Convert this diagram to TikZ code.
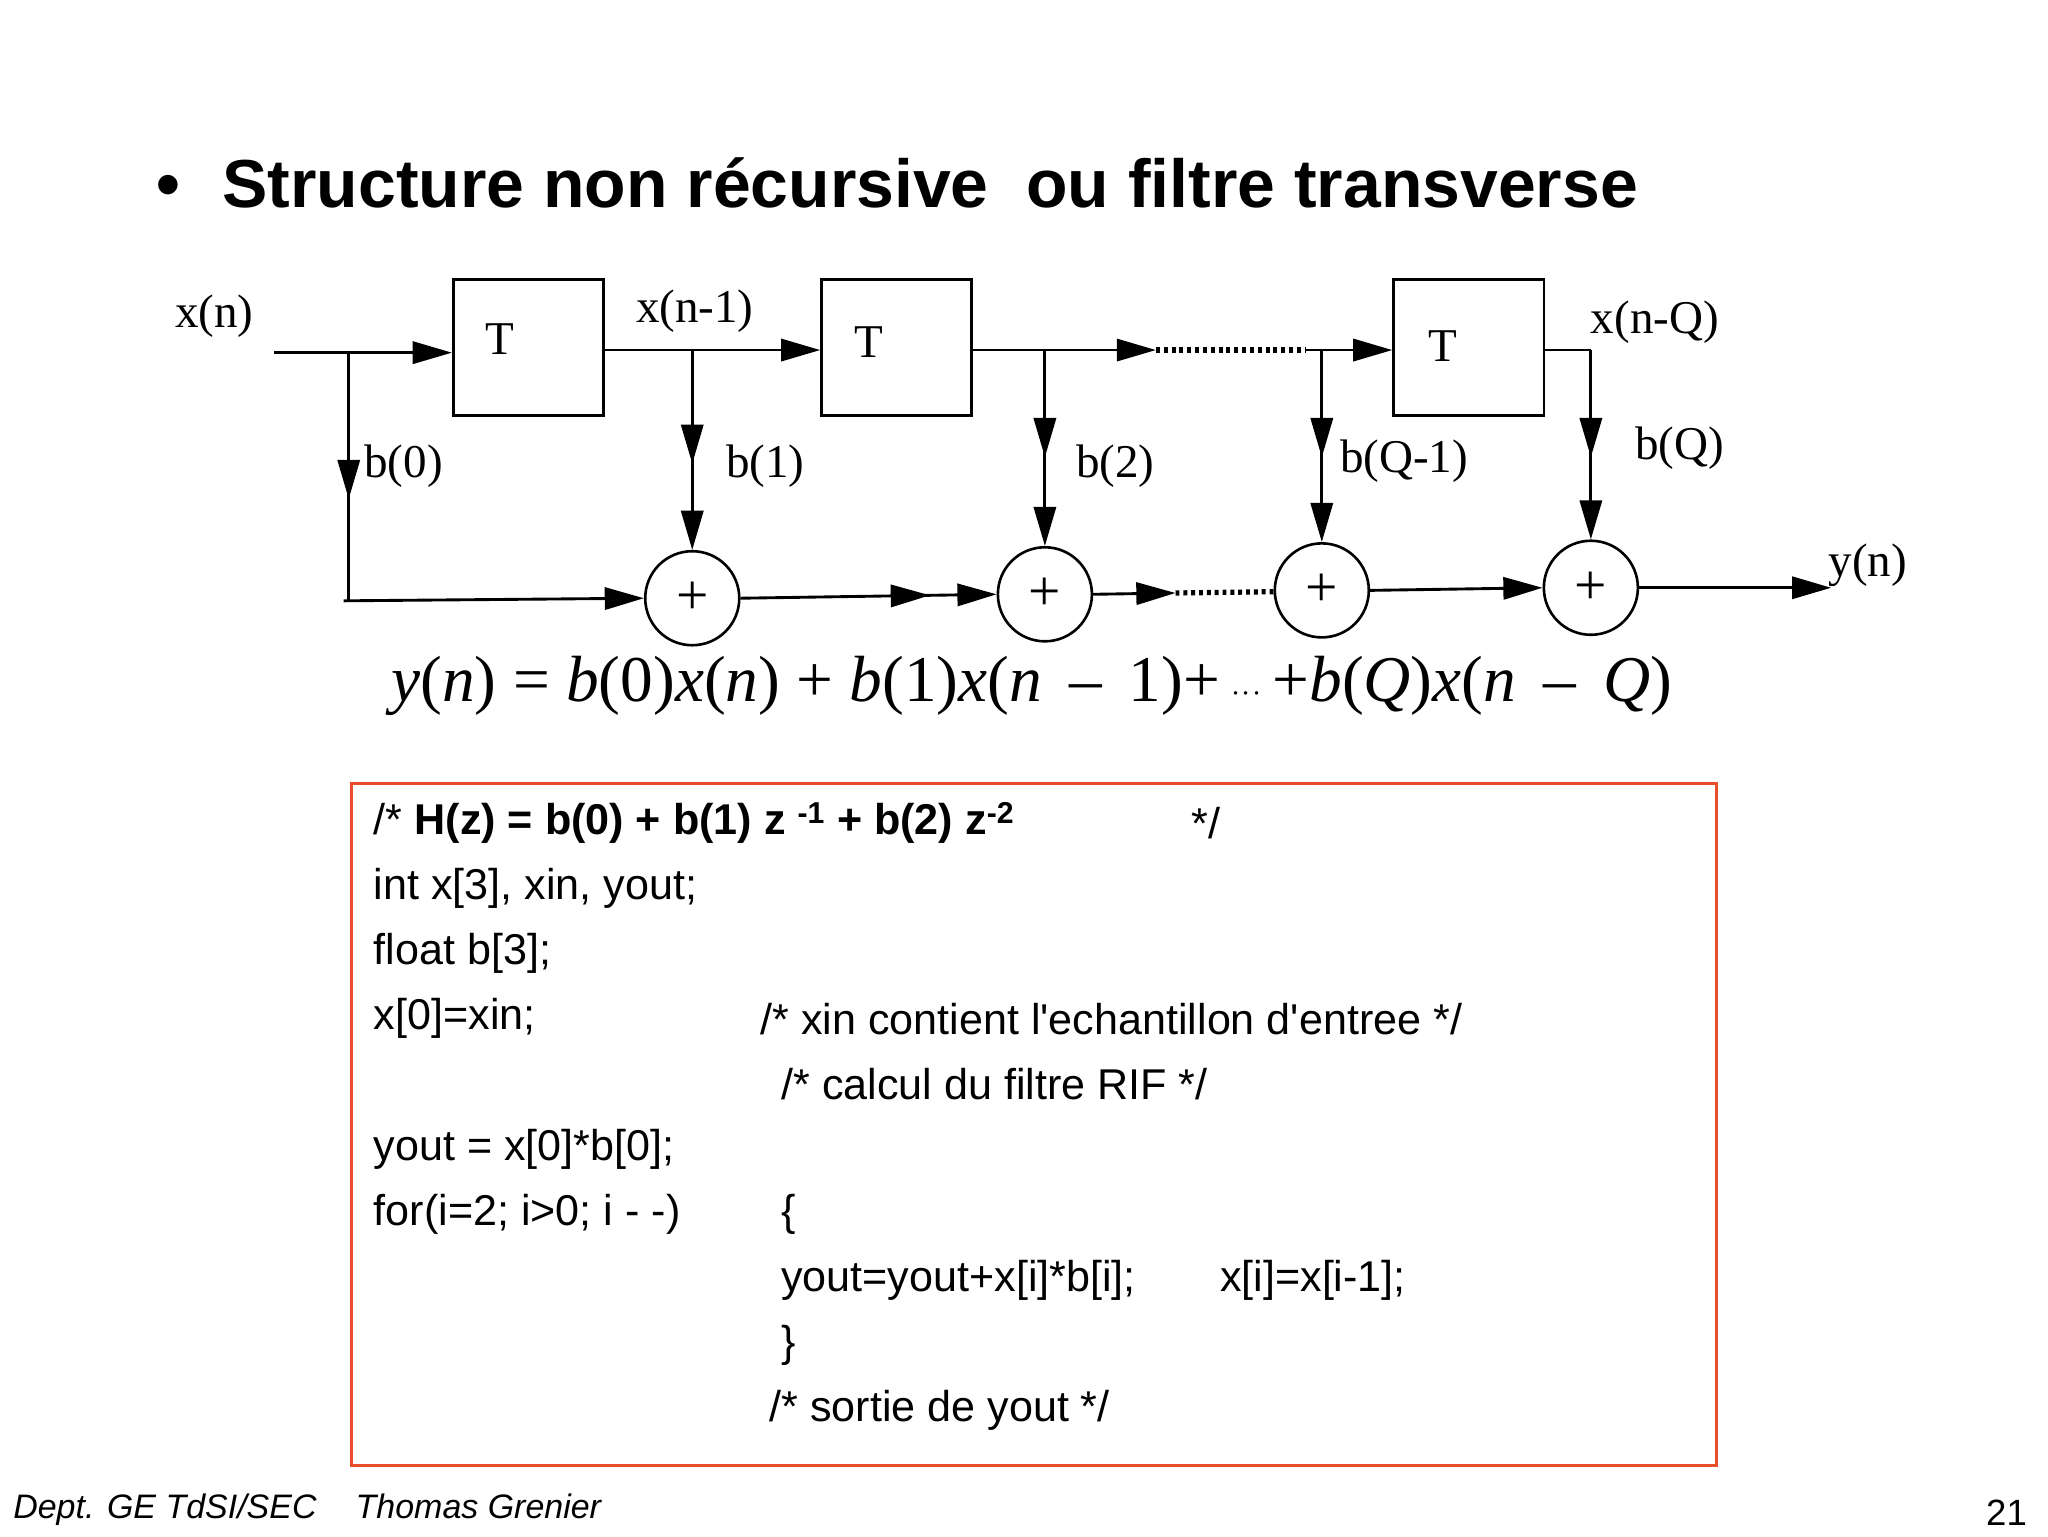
\documentclass[tikz,border=0pt]{standalone}
\usepackage{fontspec}
\setmainfont{Liberation Serif}
\newfontfamily\sansf{Liberation Sans}
\usetikzlibrary{arrows.meta,decorations.markings}
\tikzset{
 wire/.style={line width=2.2pt},
 tip/.style={-{Triangle[length=30pt,width=17pt]}},
 marr/.style={postaction={decorate},decoration={markings,mark=at position #1 with {\arrow{Triangle[length=30pt,width=17pt]}}}},
 dots/.style={line width=4pt,dash pattern=on 3pt off 3pt},
 delay/.style={draw,line width=2pt,minimum width=115pt,minimum height=104pt,inner sep=0pt},
 adder/.style={draw,circle,line width=2pt,minimum size=72pt,inner sep=0pt,font=\fontsize{44}{44}\selectfont},
 lab/.style={font=\fontsize{36}{40}\selectfont,inner sep=0pt},
 code/.style={font=\sansf\fontsize{33}{36}\selectfont,anchor=west,inner sep=0pt}
}
\begin{document}
\begin{tikzpicture}[x=1pt,y=-1pt]
\useasboundingbox (0,0) rectangle (1568,1176);
\fill[white] (0,0) rectangle (1568,1176);
% title
\node[font=\sansf\bfseries\fontsize{52}{56}\selectfont,anchor=west,inner sep=0pt] (title) at (120,140) {\textbullet\hspace{32pt}Structure non récursive\ \ ou filtre transverse};
% delays
\node[delay] (T1) at (404.5,266) {};
\node[delay] (T2) at (686.5,266) {};
\node[delay] (T3) at (1124.5,266) {};
\node[lab] at (383,260) {T};
\node[lab] at (665,262) {T};
\node[lab] at (1105,265) {T};
% adders
\node[adder] (A1) at (530,458) {+};
\node[adder] (A2) at (800,455) {+};
\node[adder] (A3) at (1012,452) {+};
\node[adder] (A4) at (1218,450) {+};
% labels
\node[lab] (lxn) at (164,242) {x(n)};
\node[lab] at (532,238) {x(n-1)};
\node[lab] at (1267,247) {x(n-Q)};
\node[lab] at (309,357) {b(0)};
\node[lab] at (586,357) {b(1)};
\node[lab] at (854,357) {b(2)};
\node[lab] at (1075,353) {b(Q-1)};
\node[lab] at (1286,343) {b(Q)};
\node[lab] (ly) at (1430,433) {y(n)};
% coordinates
\coordinate (xin) at (210,270);
\coordinate (t0) at (267,270);
\coordinate (t0b) at (267,460);
\coordinate (t1) at (530,268);
\coordinate (t2) at (800,268);
\coordinate (d1) at (885,268);
\coordinate (d2) at (1000,268);
\coordinate (t3) at (1012,268);
\coordinate (tq) at (1218,268);
\coordinate (e1) at (900,454);
\coordinate (e2) at (976,453);
\coordinate (yout) at (1402,450);
% top line
\draw[wire,tip] (xin) -- (T1.west |- xin);
\draw[wire,tip] (T1.east |- t1) -- (T2.west |- t1);
\draw[wire,tip] (T2.east |- t2) -- (d1);
\draw[dots] (d1) -- (d2);
\draw[wire,tip] (d2) -- (T3.west |- d2);
\draw[wire] (T3.east |- tq) -- (tq);
% taps
\draw[wire,marr=112pt] (t0) -- (t0b);
\draw[wire,tip] (263,460) -- (A1.west);
\draw[wire,tip,marr=87pt] (t1) -- (A1.north);
\draw[wire,tip,marr=82pt] (t2) -- (A2.north);
\draw[wire,tip,marr=82pt] (t3) -- (A3.north);
\draw[wire,tip,marr=82pt] (tq) -- (A4.north);
% bottom line
\draw[wire,tip,marr=145pt] (A1.east) -- (A2.west);
\draw[wire,tip] (A2.east) -- (e1);
\draw[dots] (e1) -- (e2);
\draw[wire,tip] (A3.east) -- (A4.west);
\draw[wire,tip] (A4.east) -- (yout);
% equation
\node[font=\fontsize{50}{54}\selectfont,inner sep=0pt] (eq) at (790,525)
 {\textit{y}(\textit{n}) = \textit{b}(0)\textit{x}(\textit{n}) + \textit{b}(1)\textit{x}(\textit{n} \,–\, 1)+\,$\cdot\!\cdot\!\cdot$\,+\textit{b}(\textit{Q})\textit{x}(\textit{n} \,–\, \textit{Q})};
% code box
\draw[line width=2pt,draw={rgb,255:red,232;green,78;blue,42}] (269,600) rectangle (1314,1122);
\node[code] at (286,630) {/* \textbf{H(z) = b(0) + b(1) z \textsuperscript{-1} + b(2) z\textsuperscript{-2}}};
\node[code] at (912,630) {*/};
\node[code] at (286,680) {int x[3], xin, yout;};
\node[code] at (286,730) {float b[3];};
\node[code] at (286,780) {x[0]=xin;};
\node[code] at (582,780) {/* xin contient l'echantillon d'entree */};
\node[code] at (598,830) {/* calcul du filtre RIF */};
\node[code] at (286,880) {yout = x[0]*b[0];};
\node[code] at (286,930) {for(i=2; i>0; i - -)};
\node[code] at (598,930) {\{};
\node[code] at (598,980) {yout=yout+x[i]*b[i];};
\node[code] at (934,980) {x[i]=x[i-1];};
\node[code] at (598,1030) {\}};
\node[code] at (589,1080) {/* sortie de yout */};
% footer
\node[font=\sansf\itshape\fontsize{26}{28}\selectfont,anchor=west,inner sep=0pt] at (10,1156) {Dept. GE TdSI/SEC\hspace{30pt}Thomas Grenier};
\node[font=\sansf\fontsize{28}{30}\selectfont,anchor=east,inner sep=0pt] at (1552,1158) {21};
\end{tikzpicture}
\end{document}
